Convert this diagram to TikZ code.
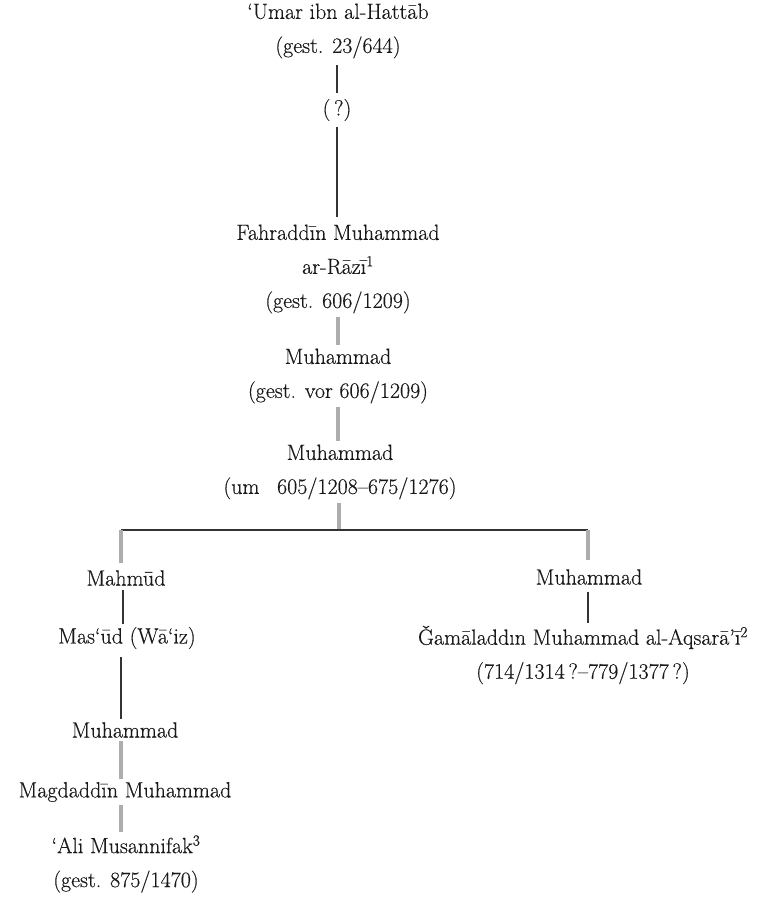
\documentclass[tikz,border=0pt]{standalone}
\usepackage{fontspec}
\setmainfont{Latin Modern Roman}[FakeBold=0.35]
\begin{document}
\begin{tikzpicture}[x=1pt,y=-1pt,
  person/.style={inner sep=3pt,align=center,text=black!90,
    font=\fontsize{22}{34}\selectfont},
  solidlink/.style={draw=black!80,line width=1.8pt},
  fadedlink/.style={draw=black!32,line width=3.6pt},
]
\useasboundingbox[fill=white] (0,0) rectangle (778,897);

% main line of descent
\node[person] (umar) at (338,31) {‘Umar ibn al-Hattāb\\(gest. 23/644)};
\node[person] (unk)  at (337,110) {(\thinspace?)};
\node[person] (fahr) at (338,269) {Fahraddīn Muhammad\\ar-Rāzī\textsuperscript{1}\\(gest. 606/1209)};
\node[person] (muhA) at (338,376) {Muhammad\\(gest. vor 606/1209)};
\node[person] (muhB) at (340,472) {Muhammad\\(um\enspace\ 605/1208--675/1276)};

% left branch
\node[person] (mahm) at (126,578) {Mahmūd};
\node[person] (masu) at (127,638) {Mas‘ūd (Wā‘iz)};
\node[person] (muhC) at (125,730) {Muhammad};
\node[person] (magd) at (125,792) {Magdaddīn Muhammad};
\node[person] (ali)  at (126,864) {‘Ali Musannifak\textsuperscript{3}\\(gest. 875/1470)};

% right branch
\node[person] (muhR) at (589,577) {Muhammad};
\node[person] (gama) at (583,655) {Ǧamāladdın Muhammad al-Aqsarā’ī\textsuperscript{2}\\(714/1314\,?--779/1377\,?)};

% branching bar under the third generation
\coordinate (jm) at (339,530);
\coordinate (jl) at (121,530);
\coordinate (jr) at (588,530);

% descent lines
\draw[solidlink,shorten <=3.5pt,shorten >=3pt] (umar.south -| unk) -- (unk.north);
\draw[solidlink,shorten <=3pt,shorten >=4pt] (unk.south) -- (unk.south |- fahr.north);
\draw[fadedlink] (fahr.south) -- (muhA.north);
\draw[fadedlink] (muhA.south) -- (muhA.south |- muhB.north);
\draw[fadedlink] (muhB.south -| jm) -- (jm);
\draw[solidlink] (jl) -- (jr);
\draw[fadedlink,shorten >=4pt] (jl) -- (jl |- mahm.north);
\draw[fadedlink,shorten >=6pt] (jr) -- (jr |- muhR.north);
\draw[solidlink,shorten <=1.5pt] (mahm.south -| 123,0) -- (masu.north -| 123,0);
\draw[solidlink,shorten <=5pt] (masu.south -| jl) -- (muhC.north -| jl);
\draw[fadedlink] (muhC.south -| jl) -- (magd.north -| jl);
\draw[fadedlink] (magd.south -| jl) -- (ali.north -| jl);
\draw[solidlink,shorten <=4pt] (muhR.south -| jr) -- (gama.north -| jr);
\end{tikzpicture}
\end{document}
